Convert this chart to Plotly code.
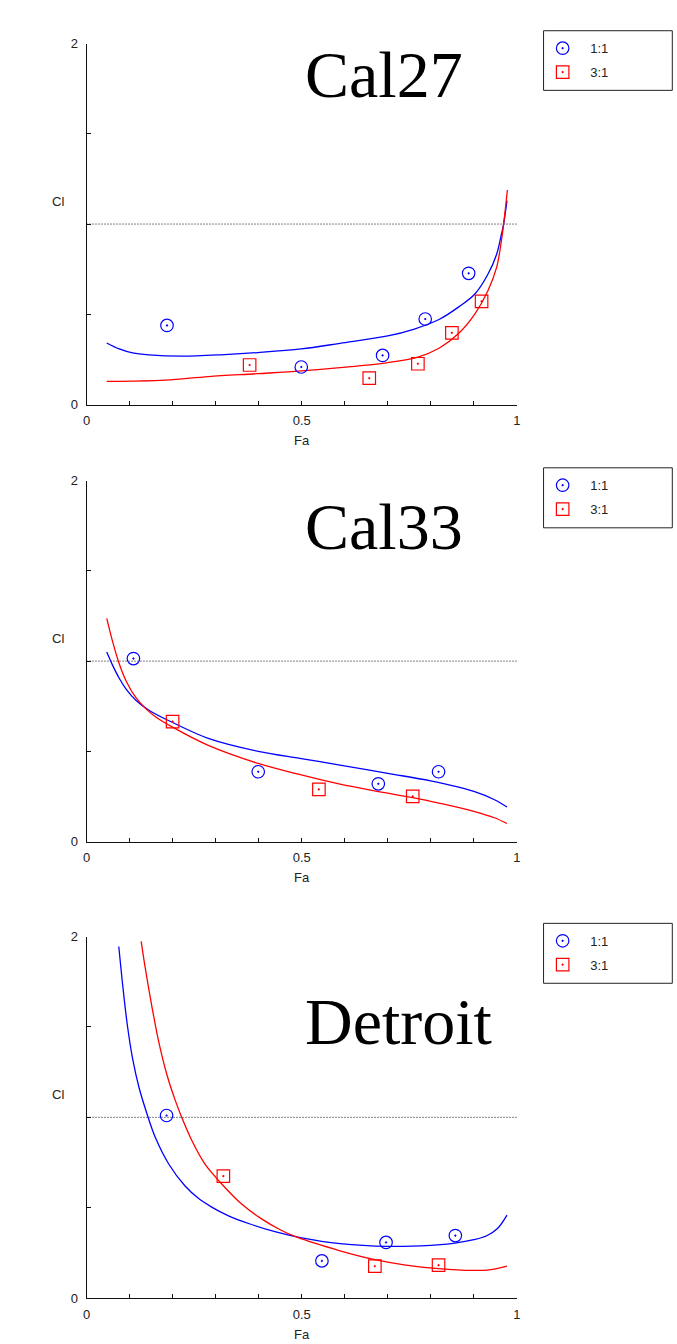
import plotly.graph_objects as go

W, H = 677, 1344

# ---- Cal27 ----
CAL27_R11_FA = [0.187, 0.499, 0.688, 0.787, 0.888]
CAL27_R11_CI = [0.438, 0.208, 0.272, 0.474, 0.727]
CAL27_R31_FA = [0.379, 0.657, 0.770, 0.849, 0.918]
CAL27_R31_CI = [0.219, 0.146, 0.226, 0.397, 0.572]
CAL27_FIT11_FA = [0.047, 0.076, 0.107, 0.145, 0.222, 0.321, 0.398, 0.499, 0.589,
                  0.700, 0.760, 0.819, 0.865, 0.903, 0.933, 0.953, 0.964, 0.969, 0.977]
CAL27_FIT11_CI = [0.341, 0.308, 0.286, 0.275, 0.268, 0.277, 0.288, 0.308, 0.339,
                  0.380, 0.417, 0.471, 0.541, 0.614, 0.723, 0.833, 0.942, 0.997, 1.130]
CAL27_FIT31_FA = [0.047, 0.183, 0.283, 0.398, 0.499, 0.589, 0.700, 0.770, 0.819,
                  0.865, 0.903, 0.933, 0.953, 0.964, 0.970, 0.978]
CAL27_FIT31_CI = [0.128, 0.135, 0.155, 0.171, 0.186, 0.204, 0.232, 0.263, 0.312,
                  0.395, 0.504, 0.632, 0.760, 0.906, 1.016, 1.189]

# ---- Cal33 ----
CAL33_R11_FA = [0.109, 0.399, 0.678, 0.818]
CAL33_R11_CI = [1.014, 0.387, 0.320, 0.387]
CAL33_R31_FA = [0.200, 0.540, 0.758]
CAL33_R31_CI = [0.665, 0.289, 0.250]
CAL33_FIT11_FA = [0.047, 0.061, 0.076, 0.092, 0.114, 0.145, 0.200, 0.283, 0.399,
                  0.499, 0.589, 0.700, 0.800, 0.900, 0.948, 0.977]
CAL33_FIT11_CI = [1.050, 0.975, 0.905, 0.845, 0.785, 0.728, 0.660, 0.572, 0.500,
                  0.460, 0.424, 0.378, 0.336, 0.278, 0.232, 0.192]
CAL33_FIT31_FA = [0.047, 0.061, 0.076, 0.092, 0.114, 0.137, 0.160, 0.200, 0.283,
                  0.399, 0.499, 0.589, 0.700, 0.800, 0.900, 0.948, 0.977]
CAL33_FIT31_CI = [1.237, 1.105, 0.985, 0.890, 0.800, 0.738, 0.692, 0.634, 0.533,
                  0.433, 0.369, 0.318, 0.268, 0.223, 0.168, 0.132, 0.100]

# ---- Detroit ----
DET_R11_FA = [0.186, 0.547, 0.696, 0.857]
DET_R11_CI = [1.010, 0.206, 0.308, 0.346]
DET_R31_FA = [0.318, 0.670, 0.818]
DET_R31_CI = [0.675, 0.177, 0.182]
DET_FIT11_FA = [0.075, 0.085, 0.095, 0.107, 0.122, 0.141, 0.160, 0.191, 0.229,
                0.260, 0.290, 0.330, 0.380, 0.440, 0.500, 0.589, 0.700, 0.800,
                0.856, 0.900, 0.930, 0.955, 0.977]
DET_FIT11_CI = [1.945, 1.710, 1.508, 1.326, 1.165, 1.016, 0.888, 0.742, 0.620,
                0.552, 0.505, 0.455, 0.410, 0.366, 0.333, 0.301, 0.286, 0.292,
                0.304, 0.323, 0.345, 0.385, 0.459]
DET_FIT31_FA = [0.127, 0.137, 0.153, 0.168, 0.187, 0.206, 0.222, 0.245, 0.275,
                0.310, 0.359, 0.405, 0.451, 0.489, 0.589, 0.670, 0.742, 0.818,
                0.894, 0.940, 0.977]
DET_FIT31_CI = [1.973, 1.818, 1.599, 1.416, 1.234, 1.095, 0.995, 0.870, 0.742,
                0.642, 0.523, 0.441, 0.377, 0.337, 0.262, 0.213, 0.183, 0.163,
                0.153, 0.158, 0.177]

PANEL_NAMES = ["Cal27", "Cal33", "Detroit"]
RATIO_NAMES = ["1:1", "3:1"]
ADDITIVE_CI = 1.0
FA_RANGE = [0, 1]
CI_RANGE = [0, 2]
X_TICKS = [0, 0.1, 0.2, 0.3, 0.4, 0.5, 0.6, 0.7, 0.8, 0.9, 1.0]
X_TICK_TEXT = ["0", "", "", "", "", "0.5", "", "", "", "", "1"]
Y_TICKS = [0, 0.5, 1.0, 1.5, 2.0]
Y_TICK_TEXT = ["0", "", "", "", "2"]

BLUE = "#0000ff"
RED = "#ff0000"
SANS = "Liberation Sans, Arial, sans-serif"
SERIF = "Liberation Serif, Times New Roman, serif"
TEXT_GRAY = "#222222"


def px(x):
    return x / W


def py(y):
    return 1 - y / H


# plot area (pixel) of each panel: top edge (CI=2) and bottom edge (CI=0)
AX_LEFT, AX_RIGHT = 83.5, 519.0
PANEL_TOPS = [37.0, 479.0, 940.0]
PANEL_BOTTOMS = [402.0, 844.0, 1305.7]
LEGEND_TOPS = [24.0, 466.0, 926.7]
LEGEND_BOTTOMS = [84.3, 526.7, 987.3]
TITLE_CENTERS = [(303.0, 68.5), (303.0, 525.5), (303.0, 1026.0)]

panels = [
    (CAL27_R11_FA, CAL27_R11_CI, CAL27_R31_FA, CAL27_R31_CI,
     CAL27_FIT11_FA, CAL27_FIT11_CI, CAL27_FIT31_FA, CAL27_FIT31_CI),
    (CAL33_R11_FA, CAL33_R11_CI, CAL33_R31_FA, CAL33_R31_CI,
     CAL33_FIT11_FA, CAL33_FIT11_CI, CAL33_FIT31_FA, CAL33_FIT31_CI),
    (DET_R11_FA, DET_R11_CI, DET_R31_FA, DET_R31_CI,
     DET_FIT11_FA, DET_FIT11_CI, DET_FIT31_FA, DET_FIT31_CI),
]

fig = go.Figure()
layout = dict(
    width=W, height=H, autosize=False,
    margin=dict(l=0, r=0, t=0, b=0),
    paper_bgcolor="white", plot_bgcolor="white",
    showlegend=True,
    shapes=[], annotations=[],
)

for i, (f11, c11, f31, c31, ff11, fc11, ff31, fc31) in enumerate(panels):
    sfx = "" if i == 0 else str(i + 1)
    xa, ya = "x" + sfx, "y" + sfx
    leg = "legend" + sfx

    # additive reference line CI = 1
    fig.add_trace(go.Scatter(
        x=FA_RANGE, y=[ADDITIVE_CI, ADDITIVE_CI], mode="lines",
        line=dict(color="#000000", width=1, dash="1px,2px"),
        xaxis=xa, yaxis=ya, showlegend=False, hoverinfo="skip"))

    # fitted CI curves
    fig.add_trace(go.Scatter(
        x=ff11, y=fc11, mode="lines", line=dict(color=BLUE, width=1.3, shape="spline", smoothing=1.0),
        xaxis=xa, yaxis=ya, showlegend=False))
    fig.add_trace(go.Scatter(
        x=ff31, y=fc31, mode="lines", line=dict(color=RED, width=1.3, shape="spline", smoothing=1.0),
        xaxis=xa, yaxis=ya, showlegend=False))

    # measured points
    fig.add_trace(go.Scatter(
        x=f11, y=c11, mode="markers", name=RATIO_NAMES[0],
        marker=dict(symbol="circle-open-dot", size=12.5, color=BLUE, line=dict(width=1.2, color=BLUE)),
        xaxis=xa, yaxis=ya, legend=leg, legendgroup=f"g{i}a"))
    fig.add_trace(go.Scatter(
        x=f31, y=c31, mode="markers", name=RATIO_NAMES[1],
        marker=dict(symbol="square-open-dot", size=12.5, color=RED, line=dict(width=1.2, color=RED)),
        xaxis=xa, yaxis=ya, legend=leg, legendgroup=f"g{i}b"))

    top, bot = PANEL_TOPS[i], PANEL_BOTTOMS[i]
    axis_common = dict(
        showgrid=False, zeroline=False, showline=True, linecolor="#111111", linewidth=1,
        ticks="inside", ticklen=4, tickwidth=1, tickcolor="#111111",
        tickfont=dict(family=SANS, size=13, color=TEXT_GRAY),
        fixedrange=True,
    )
    layout["xaxis" + sfx] = dict(
        axis_common, domain=[px(AX_LEFT), px(AX_RIGHT)], range=FA_RANGE,
        tickmode="array", tickvals=X_TICKS, ticktext=X_TICK_TEXT,
        anchor=ya, ticklabelstandoff=4)
    layout["yaxis" + sfx] = dict(
        axis_common, domain=[py(bot), py(top)], range=CI_RANGE,
        tickmode="array", tickvals=Y_TICKS, ticktext=Y_TICK_TEXT,
        anchor=xa, ticklabelstandoff=5)

    # legend frame and entries
    lt, lb = LEGEND_TOPS[i], LEGEND_BOTTOMS[i]
    layout["shapes"].append(dict(
        type="rect", xref="paper", yref="paper",
        x0=px(546), x1=px(676.3), y0=py(lb), y1=py(lt),
        line=dict(color="#222222", width=1), fillcolor="rgba(0,0,0,0)"))
    layout[leg] = dict(
        x=px(537.5), y=py(lt + 2.5), xanchor="left", yanchor="top",
        bgcolor="rgba(0,0,0,0)", borderwidth=0, itemwidth=45,
        font=dict(family=SANS, size=13, color=TEXT_GRAY),
        tracegroupgap=4, itemclick=False, itemdoubleclick=False)

    # panel title
    tx, ty = TITLE_CENTERS[i]
    layout["annotations"].append(dict(
        text=PANEL_NAMES[i], xref="paper", yref="paper", x=px(tx), y=py(ty),
        xanchor="left", yanchor="middle", showarrow=False,
        font=dict(family=SERIF, size=66, color="black")))
    # axis labels
    layout["annotations"].append(dict(
        text="Cl", xref="paper", yref="paper", x=px(55), y=py(top + 160),
        xanchor="center", yanchor="middle", showarrow=False,
        font=dict(family=SANS, size=13, color=TEXT_GRAY)))
    layout["annotations"].append(dict(
        text="Fa", xref="paper", yref="paper", x=px(301.7), y=py(bot + 36.5),
        xanchor="center", yanchor="middle", showarrow=False,
        font=dict(family=SANS, size=13, color=TEXT_GRAY)))

fig.update_layout(**layout)
fig.write_html("out.html")
